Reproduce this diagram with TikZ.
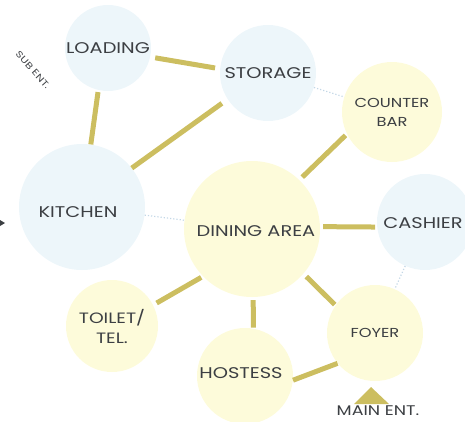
\documentclass[tikz,border=0pt]{standalone}
\usepackage{fontspec}
\setmainfont{Poppins}[FakeStretch=1.25]
\begin{document}
\definecolor{paleblue}{RGB}{237,246,250}
\definecolor{paleyellow}{RGB}{253,251,218}
\definecolor{olive}{RGB}{204,190,96}
\definecolor{ink}{RGB}{60,63,67}
\definecolor{dotblue}{RGB}{195,215,230}
\begin{tikzpicture}[x=1pt,y=1pt,
  room/.style={circle,inner sep=0pt,text=ink,font=\fontsize{15.5}{17}\selectfont,align=center},
  blueroom/.style={room,fill=paleblue},
  yellowroom/.style={room,fill=paleyellow},
  link/.style={line width=5pt,draw=olive},
  faint/.style={dotted,line width=1.2pt,draw=dotblue},
  note/.style={text=ink,font=\fontsize{14}{15}\selectfont,inner sep=0pt}]
\useasboundingbox (0,0) rectangle (465,-421);

% rooms
\node[blueroom,minimum size=86pt] (loading) at (108,-48) {LOADING};
\node[blueroom,minimum size=96pt] (storage) at (268,-73) {STORAGE};
\node[yellowroom,minimum size=100pt,font=\fontsize{13}{19}\selectfont] (counter) at (392,-112) {COUNTER\\BAR};
\node[blueroom,minimum size=126pt] (kitchen) at (82,-207) {};
\node[room] (kitchentext) at (78,-212) {KITCHEN};
\node[yellowroom,minimum size=136pt] (dining) at (252,-229) {};
\node[room] (diningtext) at (256,-231) {DINING AREA};
\node[blueroom,minimum size=96pt] (cashier) at (425,-222) {};
\node[room] (cashiertext) at (423,-223) {CASHIER};
\node[yellowroom,minimum size=92pt,font=\fontsize{15}{20}\selectfont] (toilet) at (112,-326) {TOILET/\\TEL.};
\node[yellowroom,minimum size=96pt] (hostess) at (245,-376) {};
\node[room] (hostesstext) at (241,-373) {HOSTESS};
\node[yellowroom,minimum size=96pt,font=\fontsize{13}{14}\selectfont] (foyer) at (375,-333) {FOYER};

% faint secondary relations
\draw[faint] (kitchen) -- (dining);
\draw[faint] (storage) -- (counter);
\draw[faint] (cashier) -- (foyer);

% primary relations
\draw[link,shorten <=5pt,shorten >=5pt] (loading.348) -- (storage.175);
\draw[link,shorten <=2pt] (loading.257) -- (kitchen.82);
\draw[link,shorten <=7pt] (storage.213) -- (kitchen.38);
\draw[link,shorten <=2pt,shorten >=4pt] (counter.206) -- (dining.46);
\draw[link,shorten <=3pt,shorten >=2pt] (dining.2) -- (cashier.186);
\draw[link,shorten <=4pt,shorten >=1pt] (dining.319) -- (foyer.145);
\draw[link,shorten <=3pt,shorten >=1pt] (dining.271) -- (hostess.80);
\draw[link,shorten >=0pt] (hostess.355) -- (foyer.219);
\draw[link,shorten <=4pt,shorten >=2pt] (toilet.27) -- (dining.224);

% entrances
\node[note,rotate=-48,font=\fontsize{9}{10}\selectfont] (subent) at (33,-70) {SUB ENT.};
\coordinate (sidearrow) at (5,-223);
\fill[ink] (sidearrow) -- ++(-5,3) -- ++(0,-6) -- cycle;
\coordinate (apex) at (371,-387);
\fill[olive] (apex) -- (354,-404) -- (389,-404) -- cycle;
\node[note] (mainent) at (378,-411) {MAIN ENT.};
\end{tikzpicture}
\end{document}
